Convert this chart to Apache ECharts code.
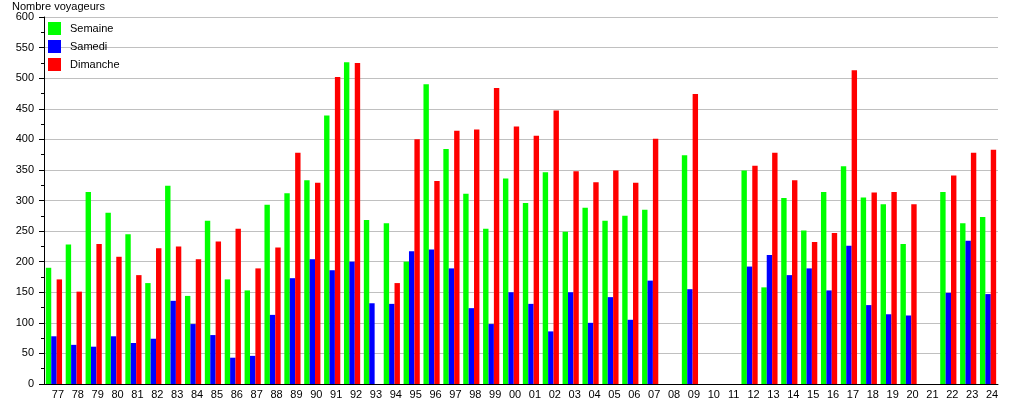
<!DOCTYPE html>
<html>
<head>
<meta charset="utf-8">
<script src="https://cdn.jsdelivr.net/npm/echarts@6/dist/echarts.min.js"></script>
<style>
html,body{margin:0;padding:0;background:#fff;}
#c{width:1015px;height:400px;}
</style>
</head>
<body>
<div id="c"></div>
<script>
const categories = ['77','78','79','80','81','82','83','84','85','86','87','88','89','90','91','92','93','94','95','96','97','98','99',
  '00','01','02','03','04','05','06','07','08','09','10','11','12','13','14','15','16','17','18','19','20','21','22','23','24'];
const semaine = [190,228,314,280,245,165,324,144,267,171,153,293,312,333,439,526,268,263,200,490,384,311,254,
  336,296,346,249,288,267,275,285,null,374,null,null,349,158,304,251,314,356,305,294,229,null,314,263,273];
const samedi = [78,64,61,78,67,74,136,98,80,43,46,113,173,204,186,200,132,131,217,220,189,124,98,
  150,131,86,150,100,142,105,169,null,155,null,null,192,211,178,189,153,226,129,114,112,null,149,234,147];
const dimanche = [171,151,229,208,178,222,225,204,233,254,189,223,378,329,502,525,null,165,400,332,414,416,484,
  421,406,447,348,330,349,329,401,null,474,null,null,357,378,333,232,247,513,313,314,294,null,341,378,383];
const yTicks = {min:0, max:600, interval:50};

const font = '"Liberation Sans", Arial, sans-serif';
const chart = echarts.init(document.getElementById('c'), null, {renderer:'canvas'});
const bar = (name, data, color) => ({
  name, type:'bar', data, barWidth:5.4, barGap:'0%',
  itemStyle:{color}, emphasis:{disabled:true}
});
chart.setOption({
  animation:false,
  backgroundColor:'#ffffff',
  textStyle:{fontFamily:font},
  title:{text:'Nombre voyageurs', left:12, top:1, padding:0,
    textStyle:{fontSize:11, fontWeight:'normal', color:'#000', fontFamily:font}},
  legend:{
    orient:'vertical', left:48, top:22, padding:0, itemWidth:13, itemHeight:13, itemGap:5,
    icon:'rect', data:['Semaine','Samedi','Dimanche'],
    textStyle:{fontSize:11, color:'#000', fontFamily:font, padding:[0,0,0,4]}
  },
  grid:{left:44, width:954, top:17, height:370, containLabel:false},
  xAxis:{
    type:'category', data:categories,
    axisLine:{lineStyle:{color:'#000', width:1}},
    axisTick:{show:false},
    axisLabel:{color:'#000', fontSize:11, fontFamily:font, margin:5, interval:0, padding:[0,0,0,8]},
    splitLine:{show:false}
  },
  yAxis:{
    type:'value', min:yTicks.min, max:yTicks.max, interval:yTicks.interval,
    axisLine:{show:true, lineStyle:{color:'#000', width:1}},
    axisTick:{show:true, length:5, lineStyle:{color:'#000'}},
    minorTick:{show:true, splitNumber:2, length:3, lineStyle:{color:'#000'}},
    axisLabel:{color:'#000', fontSize:11, fontFamily:font, margin:10},
    splitLine:{show:true, lineStyle:{color:'#c0c0c0', width:1}}
  },
  series:[
    bar('Semaine', semaine, '#00ff00'),
    bar('Samedi', samedi, '#0000ff'),
    bar('Dimanche', dimanche, '#ff0000')
  ]
});
</script>
</body>
</html>
